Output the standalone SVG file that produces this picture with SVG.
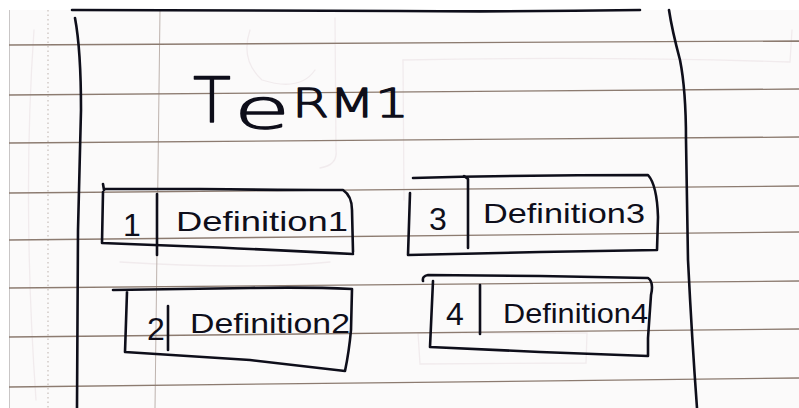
<svg xmlns="http://www.w3.org/2000/svg" width="799" height="408" viewBox="0 0 799 408">
  <style>
    .rule { stroke: #8c7b70; stroke-width: 1.3; fill: none; }
    .margin { stroke: #bdb2ad; stroke-width: 1; fill: none; }
    .ghost { stroke: #f1ebed; stroke-width: 1.3; fill: none; stroke-linecap: round; }
    .ink { stroke: #0e0e1a; stroke-width: 2.6; fill: none; stroke-linecap: round; stroke-linejoin: round; }
    .hand { fill: #0e0e1a; font-family: "Liberation Sans", "DejaVu Sans", sans-serif; }
    .title { fill: #0e0e1a; stroke: #0e0e1a; stroke-width: 1.3; stroke-linejoin: round; font-family: "DejaVu Sans", "Liberation Sans", sans-serif; font-weight: 200; }
    .num { font-size: 32px; }
    .def { font-size: 28px; }
  </style>

  <!-- paper -->
  <rect x="0" y="0" width="799" height="408" fill="#ffffff"/>
  <rect x="9" y="10" width="790" height="398" fill="#fbfafa"/>
  <line x1="9.5" y1="10" x2="9.5" y2="408" stroke="#c9c6c6" stroke-width="1"/>

  <!-- faint marks showing through from the back of the sheet -->
  <g id="bleed">
    <path class="ghost" d="M34,30 Q22,200 36,400"/>
    <path class="ghost" d="M403,60 Q600,56 790,62 L792,30"/>
    <path class="ghost" d="M403,60 L404,200"/>
    <path class="ghost" d="M418,333 L587,333 L586,363 L420,364 Z"/>
    <path class="ghost" d="M250,30 Q240,60 262,80 Q300,92 315,70"/>
    <path class="ghost" d="M335,18 L336,150 Q338,165 320,168"/>
    <path class="ghost" d="M120,262 Q250,270 330,262"/>
  </g>

  <!-- ruled lines -->
  <g id="ruling">
    <line class="margin" x1="48" y1="10" x2="48" y2="408" stroke-dasharray="1.5 3"/>
    <line class="margin" x1="160" y1="10" x2="155" y2="408"/>
    <line class="rule" x1="9" y1="45" x2="799" y2="41"/>
    <line class="rule" x1="9" y1="95" x2="799" y2="89"/>
    <line class="rule" x1="9" y1="143" x2="799" y2="137"/>
    <line class="rule" x1="9" y1="193" x2="799" y2="186"/>
    <line class="rule" x1="9" y1="240" x2="799" y2="232"/>
    <line class="rule" x1="9" y1="288" x2="799" y2="281"/>
    <line class="rule" x1="9" y1="337" x2="799" y2="329"/>
    <line class="rule" x1="9" y1="387" x2="799" y2="378"/>
  </g>

  <!-- outer frame -->
  <g id="frame">
    <path class="ink" d="M72,10 L400,11 Q520,12 640,10"/>
    <path class="ink" d="M75,18 Q81,50 81,110 Q80,160 78,230 L77,408"/>
    <path class="ink" d="M669,10 Q672,30 680,60 Q686,90 686,140 L688,260 Q692,340 697,408"/>
  </g>

  <!-- heading -->
  <g id="term">
    <text class="title" x="193" y="122" font-size="62">T</text>
    <text class="title" x="234" y="128" font-size="56" textLength="56" lengthAdjust="spacingAndGlyphs">e</text>
    <text class="title" x="292" y="117" font-size="39" textLength="117" lengthAdjust="spacingAndGlyphs">RM1</text>
  </g>

  <g id="connectors"></g>

  <!-- definition cards -->
  <g id="def1">
    <path class="ink" d="M103,184 L104,190 M104,189 L200,189 Q280,190 343,190 Q352,196 352,210 L353,252"/>
    <path class="ink" d="M103,192 L102,243 L180,246 Q280,250 353,254"/>
    <path class="ink" d="M157,194 L157,255"/>
    <text class="hand num" x="123" y="236">1</text>
    <text class="hand def" x="176" y="231" textLength="172" lengthAdjust="spacingAndGlyphs">Definition1</text>
  </g>

  <g id="def2">
    <path class="ink" d="M113,290 L250,288 Q310,287 352,289 L351,330 Q349,352 345,371 L250,360 L125,352 L127,292"/>
    <path class="ink" d="M168,306 L168,350"/>
    <text class="hand num" x="147" y="340">2</text>
    <text class="hand def" x="190" y="333" textLength="160" lengthAdjust="spacingAndGlyphs">Definition2</text>
  </g>

  <g id="def3">
    <path class="ink" d="M413,178 Q530,175 648,175 Q657,185 658,217 L657,250 L540,252 L408,255 L410,193"/>
    <path class="ink" d="M464,176 L468,179 L468,248"/>
    <text class="hand num" x="429" y="230">3</text>
    <text class="hand def" x="483" y="223" textLength="162" lengthAdjust="spacingAndGlyphs">Definition3</text>
  </g>

  <g id="def4">
    <path class="ink" d="M423,281 Q422,276 428,275 L540,276 L648,278 Q654,282 651,295 L648,338 L648,356 L540,352 L430,347 L433,281"/>
    <path class="ink" d="M480,285 L480,334"/>
    <text class="hand num" x="446" y="325">4</text>
    <text class="hand def" x="503" y="323" textLength="145" lengthAdjust="spacingAndGlyphs">Definition4</text>
  </g>
</svg>
